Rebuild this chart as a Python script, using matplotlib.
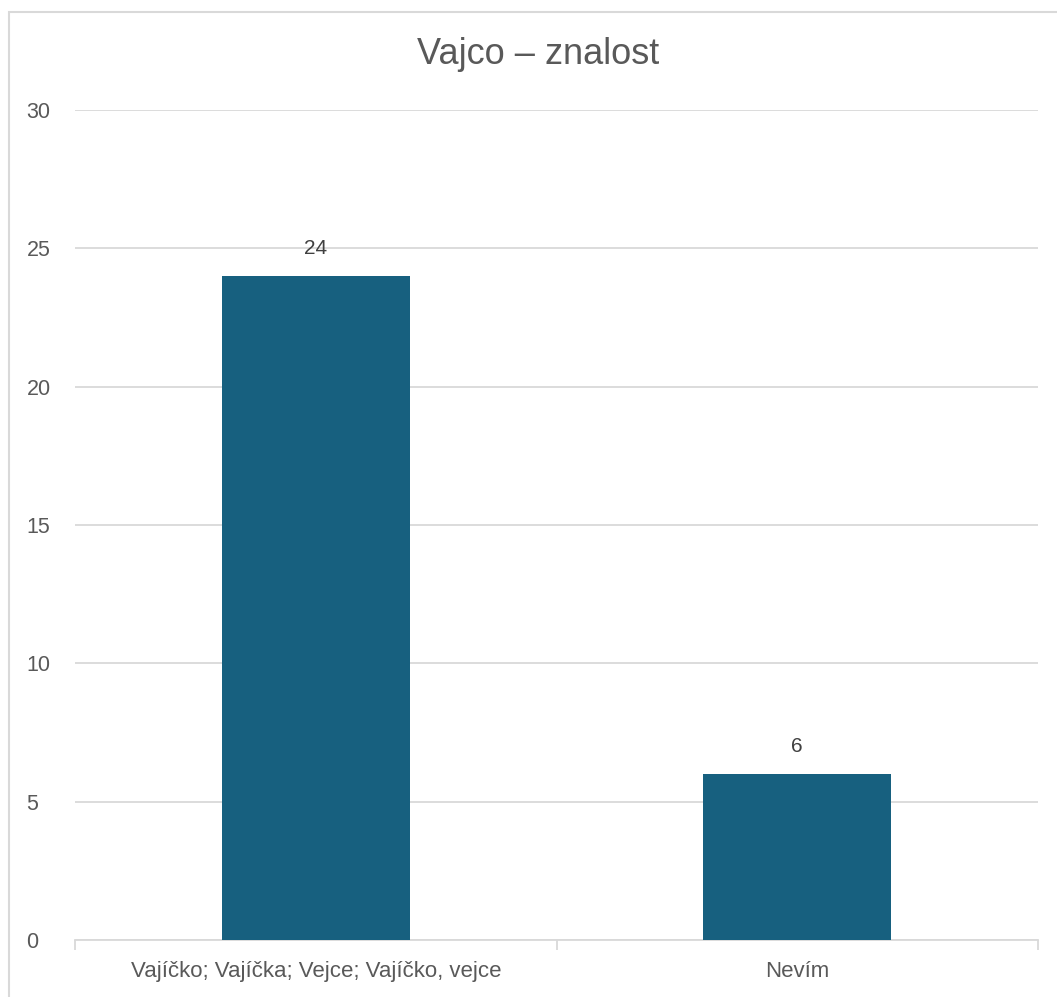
import matplotlib.pyplot as plt
from matplotlib.patches import Rectangle

categories = ["Vajíčko; Vajíčka; Vejce; Vajíčko, vejce", "Nevím"]
counts = [24, 6]
y_ticks = [0, 5, 10, 15, 20, 25, 30]

bar_color = "#17607f"
text_color = "#595959"
grid_color = "#d9d9d9"

plt.rcParams["font.family"] = ["Liberation Sans", "DejaVu Sans"]

fig = plt.figure(figsize=(10.57, 9.97), dpi=100)
ax = fig.add_axes([0.071, 0.0572, 0.911, 0.8325])

# chart border
fig.patches.append(Rectangle((9 / 1057, -0.01), 1.02, 1 - 12 / 997 + 0.01,
                             transform=fig.transFigure, fill=False,
                             edgecolor=grid_color, linewidth=1.5))

x = list(range(len(categories)))
ax.bar(x, counts, width=0.39, color=bar_color, zorder=3)
for xi, v in zip(x, counts):
    ax.annotate(str(v), (xi, v), xytext=(0, 13), textcoords="offset points",
                ha="center", va="bottom", fontsize=15, color="#404040")

ax.set_xlim(-0.5, len(categories) - 0.5)
ax.set_ylim(0, 30)
ax.set_yticks(y_ticks)
ax.set_yticklabels([str(t) for t in y_ticks])
ax.yaxis.grid(True, color=grid_color, linewidth=1.3, zorder=0)
ax.set_xticks(x)
ax.set_xticklabels(categories)
ax.set_xticks([-0.5, 0.5, 1.5], minor=True)

for s in ["top", "right", "left"]:
    ax.spines[s].set_visible(False)
ax.spines["bottom"].set_color(grid_color)
ax.spines["bottom"].set_linewidth(1.3)

ax.tick_params(axis="y", length=0, pad=35, labelsize=15.5, labelcolor=text_color)
ax.tick_params(axis="x", which="major", length=0, pad=15, labelsize=16, labelcolor=text_color)
ax.tick_params(axis="x", which="minor", length=7, width=1.3, color=grid_color)
for lbl in ax.get_yticklabels():
    lbl.set_horizontalalignment("left")

fig.text(0.509, 0.945, "Vajco – znalost", ha="center", va="center",
         fontsize=26, color=text_color)

fig.savefig("out.png", dpi=100)
